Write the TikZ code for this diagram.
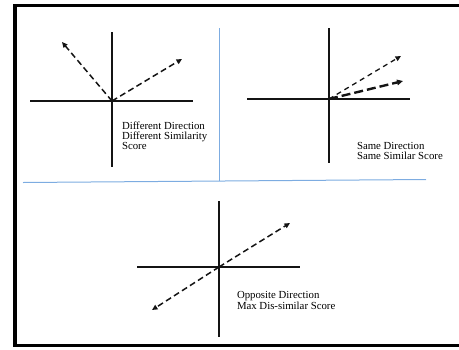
\documentclass[tikz,border=0pt]{standalone}
\usepackage{fontspec}
\setmainfont{Liberation Serif}
\usetikzlibrary{arrows.meta}
\definecolor{SimInk}{gray}{0.08}
\definecolor{SimRule}{RGB}{125,172,225}
\tikzset{
    sim/diagram/.style={
        x=1pt, y=-1pt,
        draw=SimInk,
        line cap=butt,
        every node/.style={inner sep=0pt, outer sep=0pt}
    },
    sim/frame/.style={draw=black, line width=3.3pt},
    sim/rule/.style={draw=SimRule, line width=1pt},
    sim/axis/.style={draw=SimInk, line width=1.6pt},
    sim/vector/.style={
        draw=SimInk, line width=1.5pt,
        dash pattern=on 6pt off 3.5pt,
        -{Triangle[length=5.5pt, width=5pt]}
    },
    sim/vector thin/.style={
        sim/vector, line width=1.3pt,
        dash pattern=on 5pt off 4pt
    },
    sim/vector bold/.style={
        sim/vector, line width=2.4pt,
        dash pattern=on 9pt off 4pt,
        -{Triangle[length=6pt, width=5.5pt]}
    },
    sim/label/.style={
        anchor=base west, align=left,
        font=\fontsize{10.8}{9.7}\selectfont
    }
}
\begin{document}
\begin{tikzpicture}[sim/diagram]
    \useasboundingbox (0,0) rectangle (459,349);
    % outer frame, open on the right
    \draw[sim/frame] (459,5.5) -- (15,5.5) -- (15,345.5) -- (459,345.5);
    % panel separators
    \draw[sim/rule] (219.5,28) -- (219.5,181);
    \draw[sim/rule] (23,182.5) -- (426,179.5);

    % different direction
    \coordinate (o1) at (112,101);
    \coordinate (a1) at (62,42);
    \coordinate (b1) at (182,59);
    \draw[sim/axis] (30,101) -- (193,101);
    \draw[sim/axis] (112,32) -- (112,167);
    \draw[sim/vector] (o1) -- (a1);
    \draw[sim/vector] (o1) -- (b1);
    \node[sim/label] (t1) at (122,149)
        {Different Direction\\Different Similarity\\Score};

    % same direction
    \coordinate (o2) at (329,99);
    \coordinate (a2) at (401,56);
    \coordinate (b2) at (403,81);
    \draw[sim/axis] (247,99) -- (410,99);
    \draw[sim/axis] (329,28) -- (329,163);
    \draw[sim/vector thin] (o2) -- (a2);
    \draw[sim/vector bold] (o2) -- (b2);
    \node[sim/label] (t2) at (357,159)
        {Same Direction\\Same Similar Score};

    % opposite direction
    \coordinate (o3) at (219,267);
    \coordinate (a3) at (290,223);
    \coordinate (b3) at (152,310);
    \draw[sim/axis] (137,267) -- (300,267);
    \draw[sim/axis] (219,201) -- (219,337);
    \draw[sim/vector] (o3) -- (a3);
    \draw[sim/vector] (o3) -- (b3);
    \node[sim/label] (t3) at (237,309)
        {Opposite Direction\\Max Dis-similar Score};
\end{tikzpicture}
\end{document}
